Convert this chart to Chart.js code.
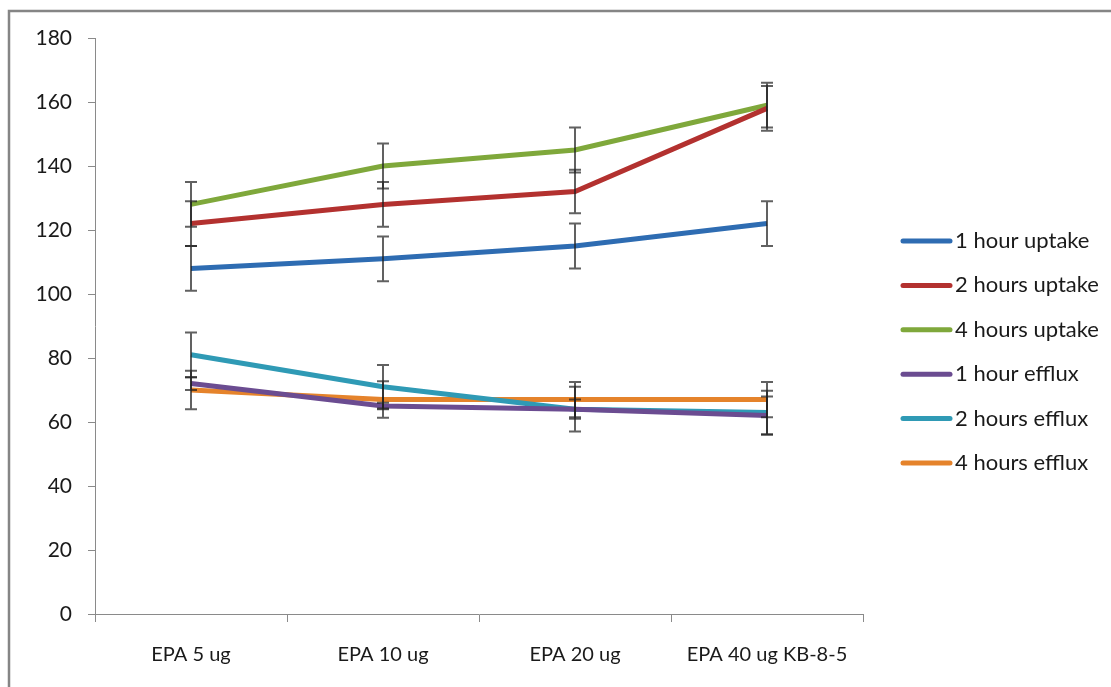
<!DOCTYPE html>
<html>
<head>
<meta charset="utf-8">
<script src="https://cdn.jsdelivr.net/npm/chart.js@4"></script>
<style>
  html, body { margin: 0; padding: 0; background: #fff; }
  #wrap { width: 1111px; height: 687px; position: relative; }
</style>
</head>
<body>
<div id="wrap"><canvas id="chart" width="1111" height="687"></canvas></div>
<script>
// Chart values
const categories = ['EPA 5 ug', 'EPA 10 ug', 'EPA 20 ug', 'EPA 40 ug KB-8-5'];
const yTicks = [0, 20, 40, 60, 80, 100, 120, 140, 160, 180];

const seriesLabels = ['1 hour uptake', '2 hours uptake', '4 hours uptake', '1 hour efflux', '2 hours efflux', '4 hours efflux'];
const seriesColors = ['#2e6cb2', '#b3312f', '#7fa83b', '#6b4c91', '#2f9ab5', '#e5832b'];

const uptake1h = [108, 111, 115, 122];
const uptake2h = [122, 128, 132, 158];
const uptake4h = [128, 140, 145, 159];
const efflux1h = [72, 65, 64, 62];
const efflux2h = [81, 71, 64, 63];
const efflux4h = [70, 67, 67, 67];

// error bar half-lengths (same order)
const errUptake1h = [7, 7, 7, 7];
const errUptake2h = [7, 7, 6.8, 7];
const errUptake4h = [7, 7, 7, 7];
const errEfflux1h = [2, 1, 3, 6];
const errEfflux2h = [7, 6.8, 7, 6.8];
const errEfflux4h = [6, 5.7, 5.5, 5.5];

const seriesValues = [uptake1h, uptake2h, uptake4h, efflux1h, efflux2h, efflux4h];
const seriesErrors = [errUptake1h, errUptake2h, errUptake4h, errEfflux1h, errEfflux2h, errEfflux4h];

const FONT = 'Lato, "Open Sans", sans-serif';

// Outer frame like the spreadsheet chart border
const framePlugin = {
  id: 'frame',
  beforeDraw(chart) {
    const ctx = chart.ctx;
    ctx.save();
    ctx.strokeStyle = '#858585';
    ctx.lineWidth = 2.5;
    ctx.strokeRect(9, 11, 1300, 900);
    ctx.restore();
  }
};

// Error bars drawn through the scales
const errorBarPlugin = {
  id: 'errorBars',
  afterDatasetsDraw(chart) {
    const ctx = chart.ctx;
    const xs = chart.scales.x, ys = chart.scales.y;
    ctx.save();
    ctx.strokeStyle = 'rgba(30,30,30,0.7)';
    ctx.lineWidth = 2;
    chart.data.datasets.forEach((ds, i) => {
      const errs = seriesErrors[i];
      ds.data.forEach((v, j) => {
        const x = Math.round(xs.getPixelForValue(j));
        const top = ys.getPixelForValue(v + errs[j]);
        const bot = ys.getPixelForValue(v - errs[j]);
        ctx.beginPath();
        ctx.moveTo(x, top); ctx.lineTo(x, bot);
        ctx.moveTo(x - 6, top); ctx.lineTo(x + 6, top);
        ctx.moveTo(x - 6, bot); ctx.lineTo(x + 6, bot);
        ctx.stroke();
      });
    });
    ctx.restore();
  }
};

// Legend on the right, one row per series
const legendPlugin = {
  id: 'sideLegend',
  afterDraw(chart) {
    const ctx = chart.ctx;
    ctx.save();
    ctx.font = '22px ' + FONT;
    ctx.textBaseline = 'middle';
    ctx.fillStyle = '#1a1a1a';
    ctx.lineCap = 'round';
    chart.data.datasets.forEach((ds, i) => {
      const y = 241 + i * 44.4;
      ctx.strokeStyle = ds.borderColor;
      ctx.lineWidth = 5;
      ctx.beginPath();
      ctx.moveTo(903, y); ctx.lineTo(950, y);
      ctx.stroke();
      ctx.fillText(ds.label, 955, y);
    });
    ctx.restore();
  }
};

new Chart(document.getElementById('chart'), {
  type: 'line',
  data: {
    labels: categories,
    datasets: seriesLabels.map((label, i) => ({
      label,
      data: seriesValues[i],
      borderColor: seriesColors[i],
      backgroundColor: seriesColors[i],
      borderWidth: 5,
      pointRadius: 0,
      tension: 0,
      fill: false
    }))
  },
  options: {
    responsive: false,
    animation: false,
    layout: { padding: { left: 0, right: 248, top: 38, bottom: 0 } },
    plugins: { legend: { display: false }, tooltip: { enabled: false } },
    scales: {
      x: {
        offset: true,
        grid: { offset: true, drawOnChartArea: false, color: '#8a8a8a', tickLength: 8 },
        border: { color: '#8a8a8a', width: 1 },
        ticks: { color: '#1a1a1a', font: { family: FONT, size: 20 }, padding: 21, maxRotation: 0 },
        afterFit(scale) { scale.height = 73; }
      },
      y: {
        min: 0,
        max: 180,
        afterBuildTicks(scale) { scale.ticks = yTicks.map(v => ({ value: v })); },
        grid: { drawOnChartArea: false, color: '#8a8a8a', tickLength: 7 },
        border: { color: '#8a8a8a', width: 1 },
        ticks: { color: '#1a1a1a', font: { family: FONT, size: 21 }, padding: 16 },
        afterFit(scale) { scale.width = 95; }
      }
    }
  },
  plugins: [framePlugin, errorBarPlugin, legendPlugin]
});
</script>
</body>
</html>
